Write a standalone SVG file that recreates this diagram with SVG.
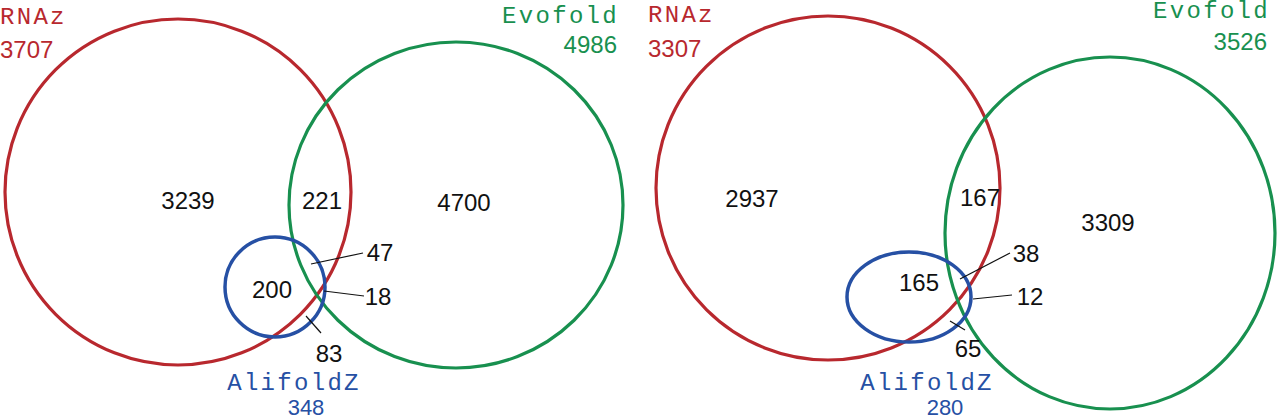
<svg xmlns="http://www.w3.org/2000/svg" width="1280" height="418" viewBox="0 0 1280 418">
<style>
.red{fill:none;stroke:#b8282e;stroke-width:3.2}
.green{fill:none;stroke:#18904f;stroke-width:3.2}
.blue{fill:none;stroke:#2650a4;stroke-width:3.5}
.lab{font-family:"Liberation Mono","Courier New",monospace;font-size:24px;letter-spacing:2.3px}
.cnt{font-family:"Liberation Sans",Arial,sans-serif;font-size:24px}
.low{font-size:22px}
.num{font-family:"Liberation Sans",Arial,sans-serif;font-size:24px;fill:#111;text-anchor:middle}
.r{fill:#b8282e}.g{fill:#18904f}.b{fill:#2650a4}
.lead{stroke:#111;stroke-width:1.2}
</style>
<rect width="1280" height="418" fill="#fff"/>
<g id="left-rnaz"><circle class="red" cx="178" cy="192" r="173"/>
<text class="lab r" x="0" y="24">RNAz</text><text class="cnt r" x="0" y="58">3707</text></g>
<g id="left-evofold"><ellipse class="green" cx="456" cy="205" rx="167" ry="163"/>
<text class="lab g" x="619" y="23" text-anchor="end">Evofold</text><text class="cnt g" x="617" y="53" text-anchor="end">4986</text></g>
<g id="left-alifoldz"><circle class="blue" cx="275" cy="287" r="50"/>
<text class="lab b" x="294" y="390" text-anchor="middle">AlifoldZ</text><text class="cnt low b" x="306" y="415" text-anchor="middle">348</text></g>
<g id="left-counts">
<text class="num" x="188" y="209">3239</text>
<text class="num" x="322" y="209">221</text>
<text class="num" x="464" y="211">4700</text>
<text class="num" x="272" y="298">200</text>
<text class="num" x="380" y="261">47</text>
<text class="num" x="378" y="305">18</text>
<text class="num" x="329" y="362">83</text>
</g>
<g id="right-rnaz"><circle class="red" cx="828" cy="188" r="172"/>
<text class="lab r" x="648" y="22">RNAz</text><text class="cnt r" x="648" y="57">3307</text></g>
<g id="right-evofold"><ellipse class="green" cx="1110" cy="233" rx="165" ry="176"/>
<text class="lab g" x="1270" y="18" text-anchor="end">Evofold</text><text class="cnt g" x="1267" y="50" text-anchor="end">3526</text></g>
<g id="right-alifoldz"><ellipse class="blue" cx="909" cy="297" rx="62" ry="45"/>
<text class="lab b" x="927" y="390" text-anchor="middle">AlifoldZ</text><text class="cnt low b" x="945" y="415" text-anchor="middle">280</text></g>
<g id="right-counts">
<text class="num" x="752" y="207">2937</text>
<text class="num" x="980" y="206">167</text>
<text class="num" x="1108" y="231">3309</text>
<text class="num" x="919" y="291">165</text>
<text class="num" x="1026" y="262">38</text>
<text class="num" x="1030" y="305">12</text>
<text class="num" x="968" y="357">65</text>
</g>
<g id="connectors">
<line class="lead" x1="311" y1="264" x2="363" y2="253"/>
<line class="lead" x1="324" y1="291" x2="364" y2="296"/>
<line class="lead" x1="306" y1="316" x2="321" y2="333"/>
<line class="lead" x1="960" y1="279" x2="1010" y2="253"/>
<line class="lead" x1="973" y1="299" x2="1012" y2="295"/>
<line class="lead" x1="950" y1="321" x2="965" y2="330"/>
</g>
</svg>
